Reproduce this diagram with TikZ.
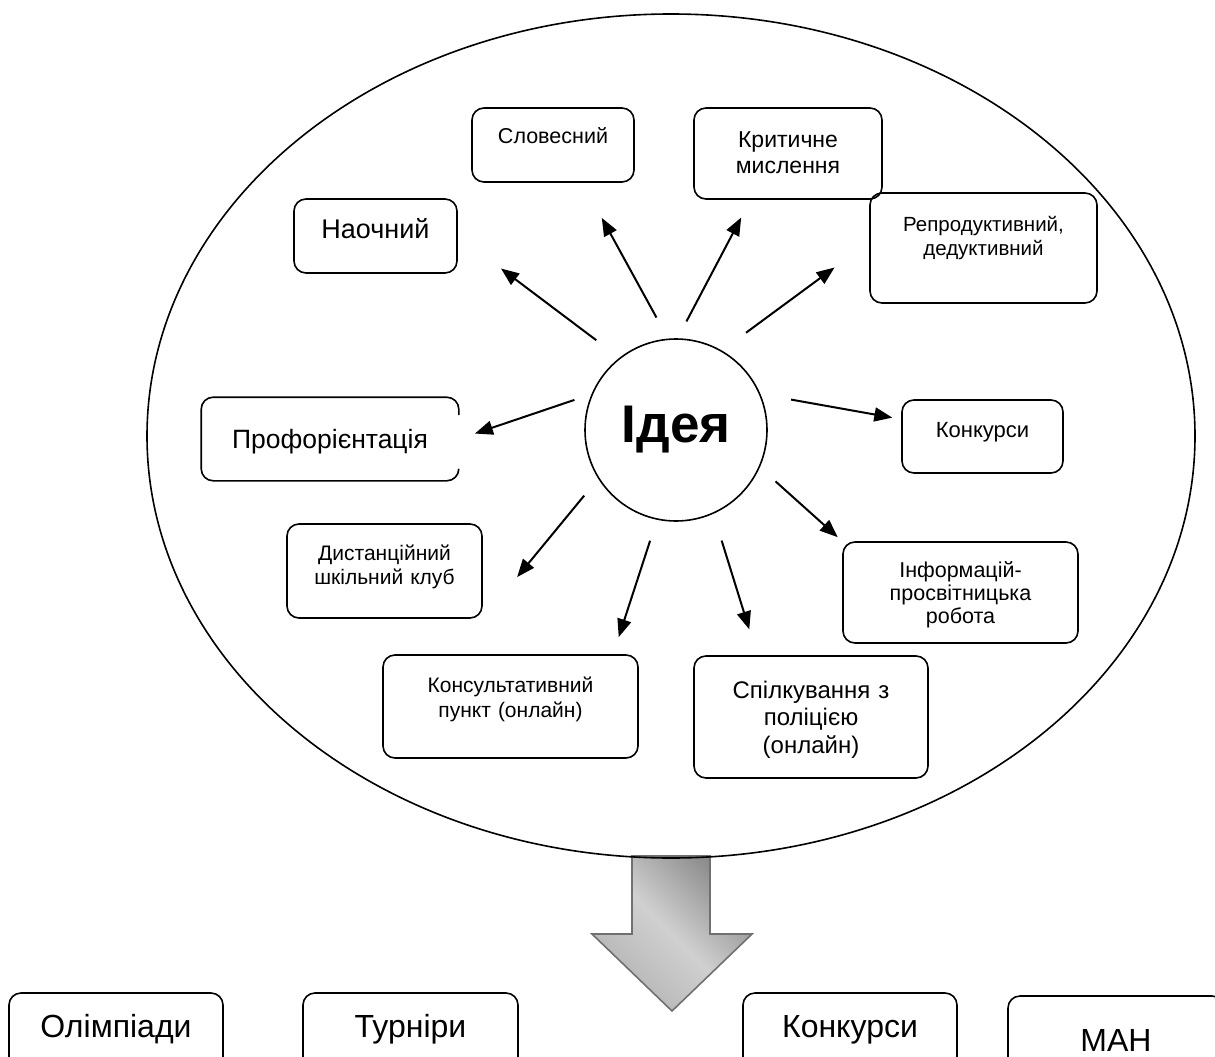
\documentclass[tikz,border=0pt]{standalone}
\usepackage{fontspec}
\setmainfont{Liberation Sans}
\usetikzlibrary{arrows.meta}

\definecolor{arrowlight}{HTML}{D0D0D0}
\definecolor{arrowdark}{HTML}{8A8A8A}
\definecolor{arrowline}{HTML}{707070}

\tikzset{
  sbox/.style={draw, line width=1.6pt, rounded corners=12pt, inner sep=0pt, anchor=base, align=center},
  arr/.style={-{Triangle[length=18pt,width=14pt]}, line width=2pt},
}

\begin{document}
\begin{tikzpicture}[x=1pt, y=-1pt]
    \useasboundingbox (0,0) rectangle (1215,1057);
    \clip (0,0) rectangle (1215,1057);

    % Big arrow
    \draw[line width=1.6pt, draw=arrowline, top color=arrowdark, bottom color=gray!60, middle color=arrowlight, shading angle=-45]
      (632,856) -- (710,856) -- (710,934) -- (752,934) -- (672,1011) -- (592,934) -- (632,934) -- cycle;

    % Ellipse
    \draw[line width=1.6pt] (671,436) ellipse [x radius=524, y radius=422];

    % Nodes
    \node[circle, draw, line width=1.6pt, minimum size=182pt, inner sep=0pt, font=\bfseries\fontsize{53}{60}\selectfont] (idea) at (676,430) {Ідея};

    \node[sbox, text width=163pt, text height=39pt, text depth=35pt, font=\fontsize{27}{31}\selectfont] (naoch) at (375.5,238) {Наочний};
    \node[sbox, text width=162pt, text height=35pt, text depth=39pt, font=\fontsize{21.5}{24}\selectfont] (slov) at (553,143) {Словесний};
    \node[sbox, text width=188pt, text height=39pt, text depth=52pt, font=\fontsize{23}{26}\selectfont] (krit) at (788,147) {Критичне\\мислення};
    \node[sbox, text width=227pt, text height=38pt, text depth=72pt, font=\fontsize{20.5}{24}\selectfont] (repr) at (983.5,231) {Репродуктивний,\\дедуктивний};
    \node[sbox, draw=none, text width=256pt, text height=50pt, text depth=32pt, font=\fontsize{26.5}{30}\selectfont] (prof) at (330,448) {Профорієнтація};
    \draw[line width=1.6pt, rounded corners=12pt] ([yshift=24pt]prof.east) |- (prof.north west) |- (prof.south east) -- ([yshift=12pt]prof.south east);
    \node[sbox, text width=161pt, text height=37pt, text depth=36pt, font=\fontsize{22}{25}\selectfont] (konk) at (982.5,437) {Конкурси};
    \node[sbox, text width=195pt, text height=36pt, text depth=58pt, font=\fontsize{21}{24}\selectfont] (dist) at (384.5,560) {Дистанційний\\шкільний клуб};
    \node[sbox, text width=255pt, text height=37pt, text depth=66pt, font=\fontsize{21}{25}\selectfont] (cons) at (510.5,692) {Консультативний\\пункт (онлайн)};
    \node[sbox, text width=235pt, text height=35pt, text depth=66pt, font=\fontsize{21.5}{23}\selectfont] (info) at (960.5,577) {Інформацій-\\просвітницька\\робота};
    \node[sbox, text width=234pt, text height=42pt, text depth=80pt, font=\fontsize{24}{27.5}\selectfont] (spil) at (811,698) {Спілкування з\\поліцією\\(онлайн)};

    \node[sbox, text width=214pt, text height=44pt, text depth=60pt, font=\fontsize{32}{36}\selectfont] (olimp) at (116,1037) {Олімпіади};
    \node[sbox, text width=215pt, text height=44pt, text depth=60pt, font=\fontsize{32}{36}\selectfont] (turn) at (410.5,1037) {Турніри};
    \node[sbox, text width=214pt, text height=44pt, text depth=60pt, font=\fontsize{32}{36}\selectfont] (konkb) at (850,1037) {Конкурси};
    \node[sbox, text width=216pt, text height=55pt, text depth=60pt, font=\fontsize{32}{36}\selectfont] (man) at (1116,1051) {МАН};

    % Arrows
    \draw[arr, shorten <=29pt, shorten >=54pt] (idea.128) -- (naoch.east);
    \draw[arr, shorten <=24pt, shorten >=40pt] (idea.95) -- (slov.308);
    \draw[arr, shorten <=19pt, shorten >=20pt] (idea.89) -- (krit.231);
    \draw[arr, shorten <=30pt, shorten >=43pt] (idea.60) -- (repr.177);
    \draw[arr, shorten <=18pt, shorten >=17pt] (idea.157) -- (prof.east);
    \draw[arr, shorten <=31pt, shorten >=9pt] (idea.23) -- (konk.168);
    \draw[arr, shorten <=22pt, shorten >=54pt] (idea.212) -- (dist.south east);
    \draw[arr, shorten <=22pt, shorten >=18pt] (idea.258) -- (cons.27);
    \draw[arr, shorten <=28pt, shorten >=27pt] (idea.294) -- (spil.131);
    \draw[arr, shorten <=21pt, shorten >=6pt] (idea.336) -- (info.north west);

\end{tikzpicture}
\end{document}
